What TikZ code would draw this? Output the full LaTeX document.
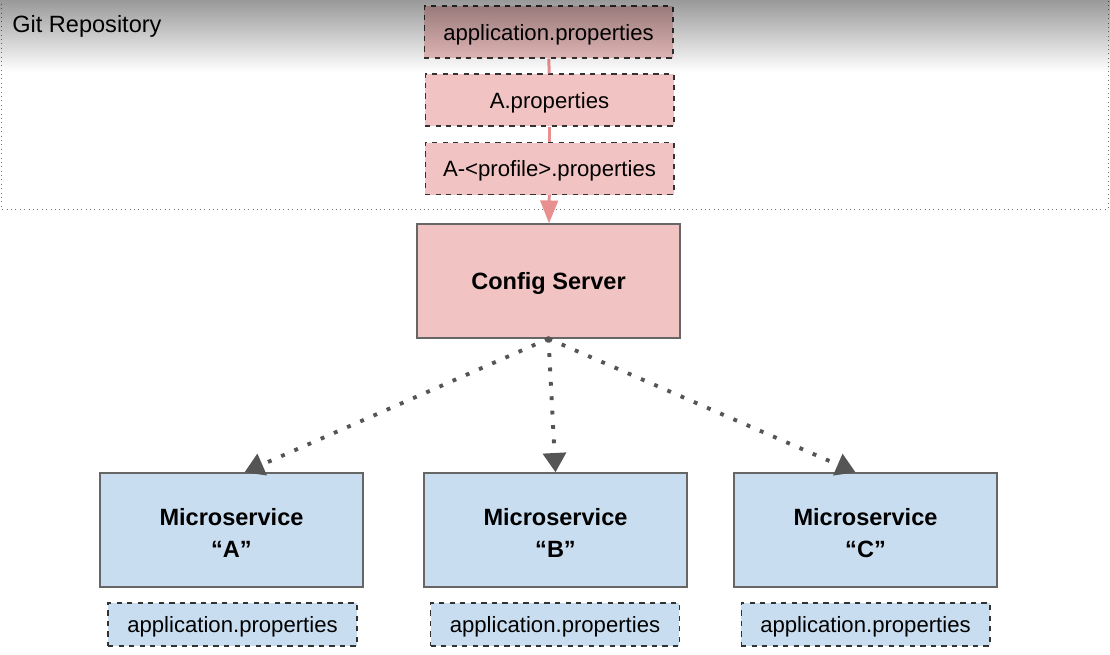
\documentclass[tikz,border=0pt]{standalone}
\usepackage{fontspec}
\setmainfont{Liberation Sans}
\usetikzlibrary{arrows.meta,fadings}
\definecolor{cfgpink}{HTML}{F2C3C3}
\definecolor{linkpink}{HTML}{E8908F}
\definecolor{svcblue}{HTML}{C9DDF0}
\definecolor{edgegray}{HTML}{666666}
\definecolor{dotgray}{HTML}{555555}
\newcommand{\svcgap}{\rule{0pt}{13pt}}
\tikzfading[name=fade down, top color=transparent!0, bottom color=transparent!100]
\begin{document}
\begin{tikzpicture}[x=0.02cm,y=-0.02cm,
    propfile/.style={draw=black!80,dashed,line width=0.6pt,minimum width=4.98cm,minimum height=1.04cm,
      font=\fontsize{12.6}{15}\selectfont,inner sep=0pt,text depth=0pt},
    server/.style={draw=edgegray,line width=0.8pt,minimum width=5.26cm,minimum height=2.28cm,
      font=\fontsize{13.4}{18}\selectfont\bfseries,align=center},
    pinklink/.style={linkpink,line width=1.7pt},
    dotlink/.style={dotgray,line width=2.2pt,dash pattern=on 2.2pt off 6pt,
      -{Triangle[width=13pt,length=11pt]}}]
  \useasboundingbox (0,0) rectangle (1110,654);
  \draw[black!55,dotted,line width=0.5pt] (1,-5) rectangle (1108,209);
  \node[anchor=west,inner sep=0pt,font=\fontsize{13.4}{16}\selectfont] (git) at (12,26) {Git Repository};
  \node[propfile,fill=cfgpink] (appprop) at (548.5,32) {application.properties};
  \node[propfile,fill=cfgpink] (aprop) at (549.5,100) {A.properties};
  \node[propfile,fill=cfgpink] (profprop) at (549.5,168.5) {A-<profile>.properties};
  \node[server,fill=cfgpink,text depth=0pt] (cfg) at (548.5,281) {Config Server};
  \node[server,fill=svcblue] (msA) at (231.5,530) {\svcgap Microservice\\“A”};
  \node[server,fill=svcblue] (msB) at (555.5,530) {\svcgap Microservice\\“B”};
  \node[server,fill=svcblue] (msC) at (865.5,530) {\svcgap Microservice\\“C”};
  \node[propfile,fill=svcblue,minimum height=0.86cm] (appA) at (232.5,624.5) {application.properties};
  \node[propfile,fill=svcblue,minimum height=0.86cm] (appB) at (555,624.5) {application.properties};
  \node[propfile,fill=svcblue,minimum height=0.86cm] (appC) at (865.5,624.5) {application.properties};
  \draw[pinklink] (appprop) -- (aprop);
  \draw[pinklink] (aprop) -- (profprop);
  \draw[pinklink,-{Triangle[width=10pt,length=13pt]}] (profprop) -- (cfg);
  \fill[dotgray] (cfg.south) circle (2.5);
  \draw[dotlink] (cfg.south) -- ([xshift=0.26cm]msA.north);
  \draw[dotlink] (cfg.south) -- (msB.north);
  \draw[dotlink] (cfg.south) -- ([xshift=-0.2cm]msC.north);
  \fill[black,fill opacity=0.4,path fading=fade down] (0,0) rectangle (1110,72);
\end{tikzpicture}
\end{document}
